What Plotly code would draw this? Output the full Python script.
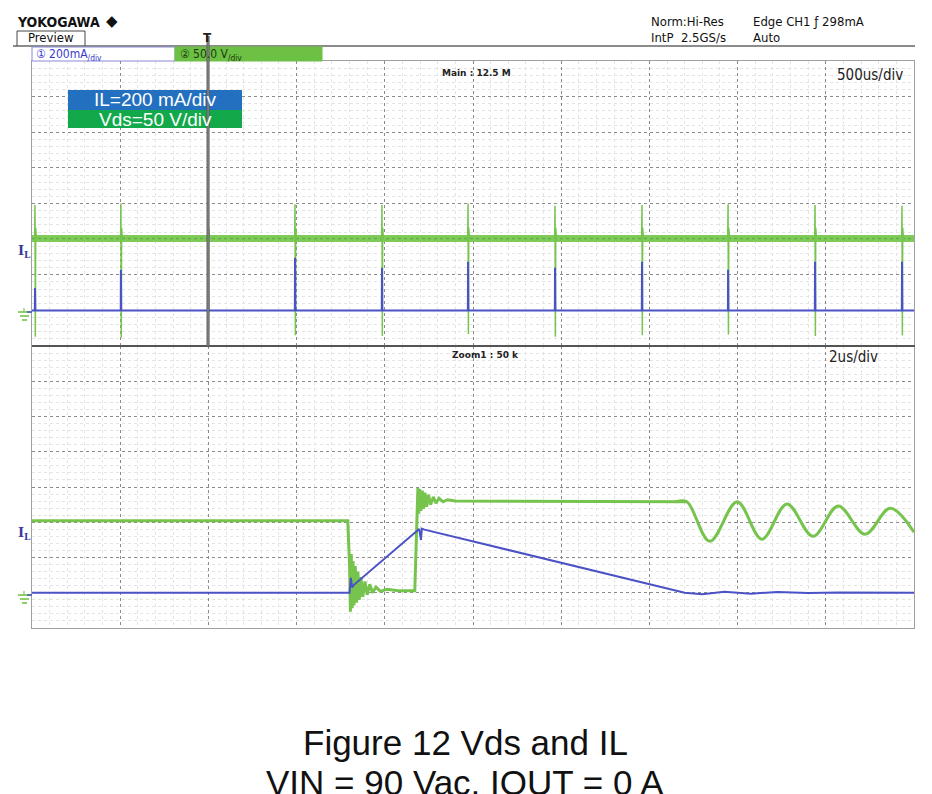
import plotly.graph_objects as go

# ---------------- data ----------------
# Top panel: 500 us/div, time in ms
top_spike_ms = [0.017, 0.504, 0.998, 1.491, 1.984, 2.472, 2.965, 3.458, 3.946, 4.439, 4.932]
top_vds_level = 101          # V, flat Vds level
top_vds_spike_hi = [148, 150, 147, 149, 148, 150, 147, 148, 149, 148, 147]   # V
top_vds_spike_lo = [-37, -38, -30, -35, -36, -33, -37, -35, -34, -36, -35]   # V
top_il_spike = [126, 228, 235, 295, 239, 273, 239, 273, 228, 273, 273]       # mA

# Bottom panel: 2 us/div, time in us
# Vds switching edges with ringing
bot_vds_t = [0.0, 7.16, 7.20, 7.22, 7.24, 7.26, 7.28, 7.30, 7.33, 7.36, 7.39, 7.42, 7.46,
             7.50, 7.55, 7.60, 7.66, 7.72, 7.80, 7.90, 8.05, 8.30, 8.68, 8.72, 8.75,
             8.77, 8.79, 8.82, 8.85, 8.88, 8.91, 8.95, 8.99, 9.04, 9.10, 9.16, 9.23,
             9.32, 9.42, 9.60, 10.5, 12.0, 14.0, 14.85]
bot_vds_v = [102, 102, 40, -27, 55, -22, 45, -18, 38, -14, 30, -10, 22,
             -6, 16, -3, 12, 0, 8, 2, 5, 3, 3, 100, 149,
             112, 147, 116, 145, 119, 142, 122, 139, 125, 136, 127, 134,
             129, 132, 130, 130, 130, 129, 129]
# Vds damped oscillation after demagnetisation
bot_ring_t = [14.6, 14.85, 15.37, 15.99, 16.55, 17.12, 17.71, 18.28, 18.89, 19.46, 20.0]
bot_ring_v = [129, 129, 73, 129, 76, 126, 80, 123, 83, 120, 86]
# Inductor current
bot_il_t = [0.0, 7.20, 7.23, 7.26, 7.30, 8.78, 8.80, 8.82, 8.84, 8.90, 14.80,
            15.20, 15.70, 16.30, 16.90, 17.60, 18.30, 20.0]
bot_il_v = [0, 0, 85, 30, 45, 362, 330, 300, 364, 358, 0,
            -8, 5, -5, 4, -2, 2, 0]

# ---------------- build traces ----------------
top_band_t = [0.0, 5.0]
top_band_v = [top_vds_level, top_vds_level]

top_vt, top_vv = [], []
for t, hi, lo in zip(top_spike_ms, top_vds_spike_hi, top_vds_spike_lo):
    top_vt += [t - 0.002, t, t + 0.002, t + 0.004, t + 0.008, None]
    top_vv += [top_vds_level, hi, lo, top_vds_level + 15, top_vds_level, None]

top_it, top_iv = [0.0], [0]
for t, s in zip(top_spike_ms, top_il_spike):
    top_it += [t - 0.001, t, t + 0.002]
    top_iv += [0, s, 0]
top_it.append(5.0)
top_iv.append(0)

GREEN = "#76c44e"
BLUE = "#4b52c6"

W, H = 932, 794


def py(y):
    return 1 - y / H


def pxx(x):
    return x / W


fig = go.Figure()
fig.add_trace(go.Scatter(x=top_band_t, y=top_band_v, xaxis="x", yaxis="y", mode="lines",
                         line=dict(color="#80ca5a", width=7), showlegend=False, hoverinfo="skip"))
fig.add_trace(go.Scatter(x=top_band_t, y=top_band_v, xaxis="x", yaxis="y", mode="lines",
                         line=dict(color="#5fb23c", width=1.5, dash="dot"), showlegend=False,
                         hoverinfo="skip"))
fig.add_trace(go.Scatter(x=top_vt, y=top_vv, xaxis="x", yaxis="y", mode="lines",
                         line=dict(color=GREEN, width=1.5), showlegend=False, hoverinfo="skip",
                         connectgaps=False))
fig.add_trace(go.Scatter(x=top_it, y=top_iv, xaxis="x", yaxis="y3", mode="lines",
                         line=dict(color=BLUE, width=2), showlegend=False, hoverinfo="skip"))
fig.add_trace(go.Scatter(x=bot_vds_t, y=bot_vds_v, xaxis="x2", yaxis="y2", mode="lines",
                         line=dict(color=GREEN, width=3), showlegend=False, hoverinfo="skip"))
fig.add_trace(go.Scatter(x=bot_ring_t, y=bot_ring_v, xaxis="x2", yaxis="y2", mode="lines",
                         line=dict(color=GREEN, width=3, shape="spline", smoothing=1.0),
                         showlegend=False, hoverinfo="skip"))
fig.add_trace(go.Scatter(x=bot_il_t, y=bot_il_v, xaxis="x2", yaxis="y4", mode="lines",
                         line=dict(color=BLUE, width=2), showlegend=False, hoverinfo="skip"))

MAJ = "#8a8a8a"
MIN = "#e4e4e4"
FRAME = "#a0a0a0"
xdom = [pxx(32), pxx(914)]


def xax(rng, dt, anchor):
    return dict(domain=xdom, anchor=anchor, range=rng, dtick=dt, tick0=0,
                showticklabels=False, ticks="", showgrid=True, gridcolor=MAJ,
                griddash="dot", gridwidth=1, zeroline=False, showline=True,
                mirror=True, linecolor=FRAME, fixedrange=True,
                minor=dict(dtick=dt / 5, tick0=0, showgrid=True, gridcolor=MIN, gridwidth=1))


def yax(dom, anchor):
    return dict(domain=dom, anchor=anchor, range=[-50, 350], dtick=50, tick0=0,
                showticklabels=False, ticks="", showgrid=True, gridcolor=MAJ,
                griddash="dot", gridwidth=1, zeroline=False, showline=True,
                mirror=True, linecolor=FRAME, fixedrange=True,
                minor=dict(dtick=10, tick0=0, showgrid=True, gridcolor=MIN, gridwidth=1))


NARROW = "Liberation Sans Narrow, Arial Narrow, DejaVu Sans Condensed, sans-serif"
SANS = "Liberation Sans, Arial, sans-serif"

shapes = [
    # header line
    dict(type="line", xref="paper", yref="paper", x0=pxx(13), x1=pxx(915), y0=py(46), y1=py(46),
         line=dict(color="#666666", width=1.5)),
    # Preview tab
    dict(type="line", xref="paper", yref="paper", x0=pxx(17), x1=pxx(17), y0=py(31), y1=py(46),
         line=dict(color="#444444", width=1)),
    dict(type="line", xref="paper", yref="paper", x0=pxx(17), x1=pxx(85), y0=py(31), y1=py(31),
         line=dict(color="#444444", width=1)),
    dict(type="line", xref="paper", yref="paper", x0=pxx(85), x1=pxx(85), y0=py(31), y1=py(46),
         line=dict(color="#444444", width=1)),
    # channel bar
    dict(type="rect", xref="paper", yref="paper", x0=pxx(32), x1=pxx(175), y0=py(61), y1=py(47),
         fillcolor="white", line=dict(color="#8a8ad8", width=1)),
    dict(type="rect", xref="paper", yref="paper", x0=pxx(175), x1=pxx(322), y0=py(61), y1=py(47),
         fillcolor="#6cc044", line=dict(color="#6cc044", width=1)),
    # legend boxes
    dict(type="rect", xref="paper", yref="paper", x0=pxx(68), x1=pxx(242), y0=py(110), y1=py(90),
         fillcolor="#2470c0", line=dict(width=0)),
    dict(type="rect", xref="paper", yref="paper", x0=pxx(68), x1=pxx(242), y0=py(128), y1=py(110),
         fillcolor="#12a94a", line=dict(width=0)),
    # panel separator
    dict(type="line", xref="paper", yref="paper", x0=pxx(32), x1=pxx(915), y0=py(346), y1=py(346),
         line=dict(color="#555555", width=2)),
    # cursor
    dict(type="line", xref="x", yref="paper", x0=0.998, x1=0.998, y0=py(346), y1=py(36),
         line=dict(color="#555555", width=3)),
    dict(type="line", xref="x", yref="paper", x0=0.998, x1=0.998, y0=py(346), y1=py(36),
         line=dict(color="#9a9a9a", width=1)),
]

# ground markers
for gy in (311, 594):
    shapes += [
        dict(type="line", xref="paper", yref="paper", x0=pxx(24), x1=pxx(24), y0=py(gy - 3), y1=py(gy + 1),
             line=dict(color="#6cbf3c", width=1)),
        dict(type="line", xref="paper", yref="paper", x0=pxx(18), x1=pxx(31), y0=py(gy + 1), y1=py(gy + 1),
             line=dict(color="#6cbf3c", width=1.5)),
        dict(type="line", xref="paper", yref="paper", x0=pxx(20), x1=pxx(29), y0=py(gy + 5), y1=py(gy + 5),
             line=dict(color="#6cbf3c", width=1.5)),
        dict(type="line", xref="paper", yref="paper", x0=pxx(22), x1=pxx(27), y0=py(gy + 9), y1=py(gy + 9),
             line=dict(color="#6cbf3c", width=1.5)),
        dict(type="line", xref="paper", yref="paper", x0=pxx(27), x1=pxx(32), y0=py(gy + 1), y1=py(gy + 1),
             line=dict(color=BLUE, width=1.5)),
    ]


def ann(x, y, text, size, color="#222222", family=NARROW, xanchor="left", yanchor="middle", bold=False):
    if bold:
        text = "<b>" + text + "</b>"
    return dict(xref="paper", yref="paper", x=pxx(x), y=py(y), text=text, showarrow=False,
                xanchor=xanchor, yanchor=yanchor, font=dict(size=size, color=color, family=family))


annotations = [
    ann(15, 22, "YOKOGAWA", 14, "#111111", bold=True),
    ann(104, 21, "◆", 15, "#111111", family="DejaVu Sans"),
    ann(51, 38, "Preview", 13, "#111111", xanchor="center"),
    ann(649, 21, "Norm:Hi-Res", 13, "#111111"),
    ann(649, 37, "IntP  2.5GS/s", 13, "#111111"),
    ann(751, 21, "Edge CH1 ƒ 298mA", 13, "#111111"),
    ann(751, 37, "Auto", 13, "#111111"),
    ann(207, 38, "T", 12, "#222222", family="DejaVu Sans", xanchor="center", bold=True),
    ann(34, 55, "① 200mA<sub>/div</sub>", 12, "#3a3ad0"),
    ann(178, 55, "② 50.0 V<sub>/div</sub>", 12, "#1d3a10"),
    ann(155, 100, "IL=200 mA/div", 19, "white", family=SANS, xanchor="center"),
    ann(155, 119, "Vds=50 V/div", 19, "white", family=SANS, xanchor="center"),
    ann(476, 73, "Main : 12.5 M", 9, "#222222", family="DejaVu Sans", xanchor="center", bold=True),
    ann(905, 75, "500us/div", 15, "#222222", xanchor="right"),
    ann(485, 355, "Zoom1 : 50 k", 9, "#222222", family="DejaVu Sans", xanchor="center", bold=True),
    ann(880, 357, "2us/div", 15, "#222222", xanchor="right"),
    ann(24, 252, "I<sub>L</sub>", 13, "#3a3aa0", family="DejaVu Serif", xanchor="center", bold=True),
    ann(24, 533, "I<sub>L</sub>", 13, "#3a3aa0", family="DejaVu Serif", xanchor="center", bold=True),
    ann(465, 742, "Figure 12 Vds and IL", 35, "#111111", family=SANS, xanchor="center"),
    ann(465, 782, "VIN = 90 Vac, IOUT = 0 A", 35, "#111111", family=SANS, xanchor="center"),
]

fig.update_layout(
    width=W, height=H, margin=dict(l=0, r=0, t=0, b=0),
    paper_bgcolor="white", plot_bgcolor="white", showlegend=False,
    xaxis=xax([0, 5], 0.5, "y"),
    yaxis=yax([py(346), py(61)], "x"),
    yaxis3=dict(overlaying="y", anchor="x", range=[-200, 1400], visible=False, fixedrange=True),
    xaxis2=xax([0, 20], 2, "y2"),
    yaxis2=yax([py(628), py(346)], "x2"),
    yaxis4=dict(overlaying="y2", anchor="x2", range=[-200, 1400], visible=False, fixedrange=True),
    shapes=shapes,
    annotations=annotations,
)

fig.write_html("out.html", config={"displayModeBar": False},
               post_script="document.body.style.margin='0';document.body.style.overflow='hidden';")
